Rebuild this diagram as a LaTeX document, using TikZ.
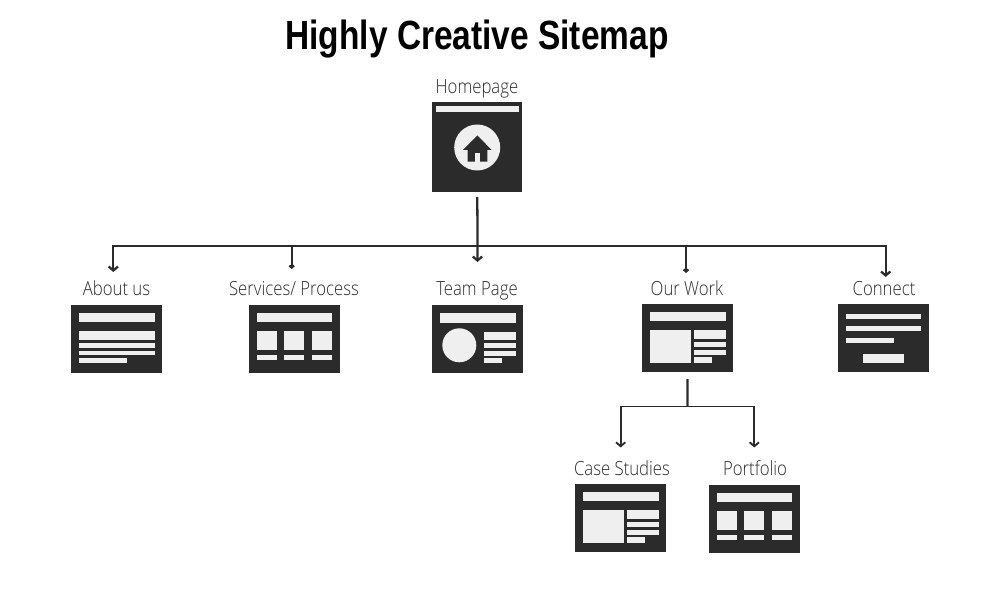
\documentclass[tikz,border=0pt]{standalone}
\usepackage{fontspec}
\setmainfont{Open Sans}[UprightFont=* Light,FakeStretch=0.86]
\newfontfamily\titlefont{Liberation Sans}[BoldFont=* Bold,FakeStretch=0.82]
\usetikzlibrary{arrows.meta}
\definecolor{pagedark}{HTML}{2B2B2B}
\definecolor{pagelight}{HTML}{EFEFEF}
\tikzset{
  pagebox/.style={fill=pagedark,inner sep=0pt,minimum width=68pt,minimum height=51pt},
  pagelabel/.style={text=pagedark,inner sep=0pt,text height=10.5pt,text depth=3pt,font=\fontsize{14.6pt}{16pt}\selectfont},
  bar/.style={fill=pagelight},
  wire/.style={draw=pagedark,line width=1.7pt},
  thinwire/.style={draw=pagedark,line width=1.4pt},
  tip/.style={-{Straight Barb[length=3pt,width=7pt]}},
  smalltip/.style={-{Straight Barb[length=1.5pt,width=3.5pt]}}
}
\begin{document}
\begin{tikzpicture}[x=0.75pt,y=-0.75pt]
  \useasboundingbox (0,0) rectangle (1000,598);
  \node[text=black,inner sep=0pt,font=\titlefont\bfseries\fontsize{30.6pt}{33pt}\selectfont] (title) at (477,39.5) {Highly Creative Sitemap};
  % labels
  \node[pagelabel] (homelabel) at (477,88.5) {Homepage};
  \node[pagelabel] (aboutlabel) at (116.5,290.5) {About us};
  \node[pagelabel] (serviceslabel) at (294,290.5) {Services/ Process};
  \node[pagelabel] (teamlabel) at (477,290.5) {Team Page};
  \node[pagelabel] (worklabel) at (687,290.5) {Our Work};
  \node[pagelabel] (connectlabel) at (884,290.5) {Connect};
  \node[pagelabel] (caselabel) at (622,470.5) {Case Studies};
  \node[pagelabel] (portfoliolabel) at (755,470.5) {Portfolio};
  % pages
  \node[pagebox,minimum width=67.5pt,minimum height=67.5pt] (home) at (477.2,147) {};
  \node[pagebox] (about) at (116.6,338.8) {};
  \node[pagebox] (services) at (294.2,338.8) {};
  \node[pagebox] (team) at (477.7,339.3) {};
  \node[pagebox] (work) at (687.7,338.2) {};
  \node[pagebox] (connect) at (883.5,338.2) {};
  \node[pagebox] (case) at (620.7,518.2) {};
  \node[pagebox] (portfolio) at (754.2,518.7) {};
  % home
  \fill[bar] (435.5,106) rectangle (519,112.5);
  \fill[bar] (477.2,147.5) circle (23);
  \fill[pagedark] (477.3,135.5) -- (491.7,150) -- (487.3,150) -- (487.3,161.7) -- (467.7,161.7) -- (467.7,150) -- (463,150) -- cycle;
  \fill[bar] (475,153.3) rectangle (480,161.7);
  % about
  \fill[bar] (78.7,313.3) rectangle (155,321.7);
  \fill[bar] (78.7,331) rectangle (155,340);
  \fill[bar] (78.7,342.7) rectangle (155,347.7);
  \fill[bar] (78.7,350.7) rectangle (155,355.3);
  \fill[bar] (78.7,358.3) rectangle (126.7,362.7);
  % services
  \fill[bar] (256.7,313) rectangle (331.7,322);
  \fill[bar] (256.7,331) rectangle (276.7,350.3);
  \fill[bar] (284.3,331) rectangle (304,350.3);
  \fill[bar] (311.7,331) rectangle (331.7,350.3);
  \fill[bar] (256.7,355) rectangle (276.7,360.3);
  \fill[bar] (284.3,355) rectangle (304,360.3);
  \fill[bar] (311.7,355) rectangle (331.7,360.3);
  % team
  \fill[bar] (439.7,313.3) rectangle (515.7,322.7);
  \fill[bar] (459.3,345.3) circle (17);
  \fill[bar] (484,331.7) rectangle (515.7,340);
  \fill[bar] (484,343) rectangle (515.7,348);
  \fill[bar] (484,350.7) rectangle (515.7,355.7);
  \fill[bar] (484,358.3) rectangle (502.3,363);
  % work
  \fill[bar] (649.7,312) rectangle (725.7,321);
  \fill[bar] (649.7,330.3) rectangle (691,362.7);
  \fill[bar] (694,330.3) rectangle (725.7,339.3);
  \fill[bar] (694,342) rectangle (725.7,346.7);
  \fill[bar] (694,350) rectangle (725.7,355);
  \fill[bar] (694,357.3) rectangle (712.3,362.7);
  % connect
  \fill[bar] (846,314) rectangle (921.3,318.7);
  \fill[bar] (846,326) rectangle (921.3,330.7);
  \fill[bar] (846,338.3) rectangle (894,343.3);
  \fill[bar] (863.3,354) rectangle (903.7,363.3);
  % case studies
  \fill[bar] (582.7,492) rectangle (658.7,501);
  \fill[bar] (582.7,510.3) rectangle (624,542.7);
  \fill[bar] (627,510.3) rectangle (658.7,519.3);
  \fill[bar] (627,522) rectangle (658.7,526.7);
  \fill[bar] (627,530) rectangle (658.7,535);
  \fill[bar] (627,537.3) rectangle (645.3,542.7);
  % portfolio
  \fill[bar] (716.7,493) rectangle (791.7,502);
  \fill[bar] (716.7,511) rectangle (736.7,530.3);
  \fill[bar] (744.3,511) rectangle (764,530.3);
  \fill[bar] (771.7,511) rectangle (791.7,530.3);
  \fill[bar] (716.7,535) rectangle (736.7,540.3);
  \fill[bar] (744.3,535) rectangle (764,540.3);
  \fill[bar] (771.7,535) rectangle (791.7,540.3);
  % connectors
  \coordinate (bus) at (477.5,246);
  \coordinate (aboutin) at (113.3,272);
  \coordinate (servicesin) at (291.7,269);
  \coordinate (teamin) at (477.5,262);
  \coordinate (workin) at (686,273);
  \coordinate (connectin) at (885.7,277);
  \coordinate (subbus) at (687.5,406.5);
  \coordinate (casein) at (620.7,447.5);
  \coordinate (portfolioin) at (754.3,447.5);
  \draw[wire,tip,shorten <=3.5pt] (home) -- (teamin);
  \draw[wire,tip] (bus) -| (aboutin);
  \draw[wire,smalltip] (bus) -| (servicesin);
  \draw[wire,smalltip] (bus) -| (workin);
  \draw[wire,tip] (bus) -| (connectin);
  \draw[wire,shorten <=5pt] (work) -- (subbus);
  \draw[thinwire,tip] (subbus) -| (casein);
  \draw[thinwire,tip] (subbus) -| (portfolioin);
\end{tikzpicture}
\end{document}
